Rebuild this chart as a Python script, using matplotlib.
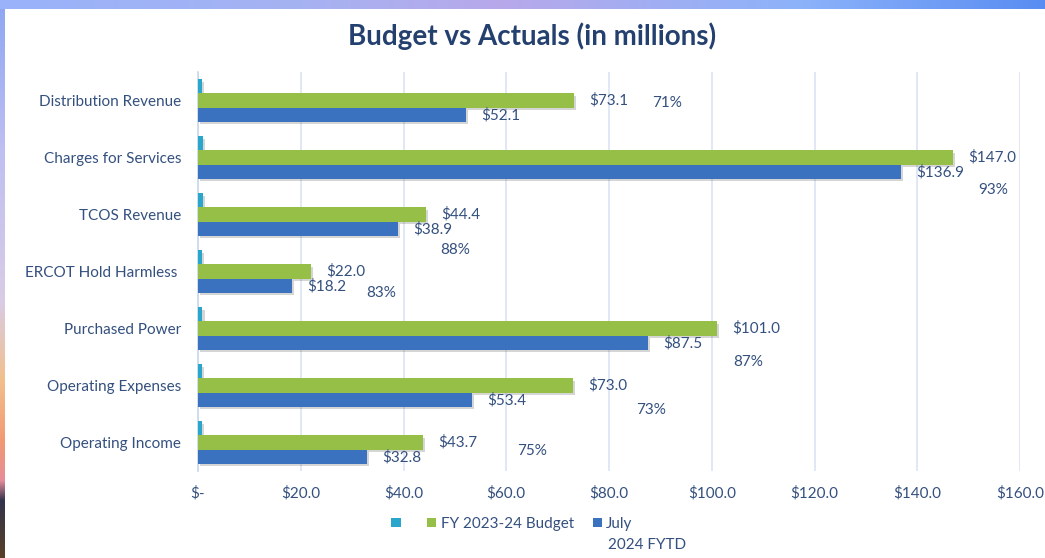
import numpy as np
import matplotlib
matplotlib.use("Agg")
import matplotlib.pyplot as plt
from matplotlib.ticker import FuncFormatter
import matplotlib.patheffects as pe

# ---------------- data ----------------
categories = ["Distribution Revenue", "Charges for Services", "TCOS Revenue",
              "ERCOT Hold Harmless ", "Purchased Power", "Operating Expenses",
              "Operating Income"]
budget = [73.1, 147.0, 44.4, 22.0, 101.0, 73.0, 43.7]
actual = [52.1, 136.9, 38.9, 18.2, 87.5, 53.4, 32.8]
pct = [0.71, 0.93, 0.88, 0.83, 0.87, 0.73, 0.75]
x_ticks = [0, 20, 40, 60, 80, 100, 120, 140, 160]
series_labels = [" ", "FY 2023-24 Budget", "July"]
series_label_cont = "2024 FYTD"   # second line of the "July 2024 FYTD" legend entry
title = "Budget vs Actuals (in millions)"

# layout of the free-floating % labels (data x, offset from category centre)
pct_label_x = [91.3, 154.7, 50.0, 35.6, 107.1, 88.2, 65.1]
pct_label_dy = [0.04, 0.57, 0.62, 0.38, 0.59, 0.43, 0.15]

# ---------------- style ----------------
FONT = "Lato"
TXT = "#34507f"
C_CYAN = "#2aa6cc"
C_GREEN = "#95bf47"
C_BLUE = "#3b72bf"
GRID = "#d9e4f2"

W, H = 1045, 558
fig = plt.figure(figsize=(W / 100, H / 100), dpi=100)

# decorative background strips (top and left edges)
img = np.ones((H, W, 3))
ys = np.arange(H)
left_stops_y = [0, 150, 300, 380, 440, 480, 500, 558]
left_cols = np.array([(0.55, 0.65, 0.95), (0.75, 0.75, 0.95), (0.85, 0.80, 0.90),
                      (0.95, 0.75, 0.55), (0.95, 0.60, 0.45), (0.90, 0.55, 0.60),
                      (0.20, 0.20, 0.30), (0.35, 0.25, 0.15)])
for c in range(3):
    img[:, :5, c] = np.interp(ys, left_stops_y, left_cols[:, c])[:, None]
xs = np.arange(W)
top_stops_x = [0, 300, 500, 800, 1045]
top_cols = np.array([(0.60, 0.70, 0.98), (0.65, 0.70, 0.95), (0.72, 0.66, 0.92),
                     (0.55, 0.70, 0.98), (0.35, 0.55, 0.95)])
for c in range(3):
    img[:9, :, c] = np.interp(xs, top_stops_x, top_cols[:, c])[None, :]
bg = fig.add_axes([0, 0, 1, 1], zorder=0)
bg.imshow(img, aspect="auto", extent=(0, 1, 0, 1))
bg.axis("off")

ax = fig.add_axes([198 / W, 1 - 471 / H, 822 / W, 399 / H], zorder=1)
ax.set_facecolor("none")

y = np.arange(len(categories))
h = 0.25
b0 = ax.barh(y - h, pct, height=h, color=C_CYAN, label=series_labels[0], zorder=3)
b1 = ax.barh(y, budget, height=h, color=C_GREEN, label=series_labels[1], zorder=3)
b2 = ax.barh(y + h, actual, height=h, color=C_BLUE, label=series_labels[2], zorder=3)

# legend first (so handles carry no shadow)
leg = fig.legend(handles=[b0, b1, b2], labels=series_labels, loc="center",
                 bbox_to_anchor=(512 / W, 1 - 524 / H), ncol=3, frameon=False,
                 handlelength=0.6, handleheight=0.6, handletextpad=0.3, columnspacing=1.2,
                 prop=dict(family=FONT, size=11), labelcolor=TXT)

shadow = [pe.SimplePatchShadow(offset=(1.5, -1.8), alpha=0.22, shadow_rgbFace="#444444"),
          pe.Normal()]
for cont in (b0, b1, b2):
    for p in cont:
        p.set_path_effects(shadow)

ax.bar_label(b1, labels=[f"${v:.1f}" for v in budget], padding=11,
             color=TXT, fontsize=11, family=FONT)
ax.bar_label(b2, labels=[f"${v:.1f}" for v in actual], padding=11,
             color=TXT, fontsize=11, family=FONT)

for i, p in enumerate(pct):
    ax.text(pct_label_x[i], y[i] + pct_label_dy[i], f"{p:.0%}", ha="center", va="center",
            color=TXT, fontsize=11, family=FONT, zorder=4,
            bbox=dict(facecolor="white", edgecolor="none", pad=1))

ax.set_xlim(0, 160)
ax.set_ylim(len(categories) - 0.5, -0.5)
ax.set_xticks(x_ticks)
ax.xaxis.set_major_formatter(FuncFormatter(lambda v, _: "$-" if v == 0 else f"${v:.1f}"))
ax.set_yticks(y)
ax.set_yticklabels(categories)
ax.tick_params(axis="both", length=0, labelcolor=TXT, labelsize=11)
ax.tick_params(axis="x", pad=11)
ax.tick_params(axis="y", pad=12)
for lab in ax.get_xticklabels() + ax.get_yticklabels():
    lab.set_family(FONT)
ax.grid(axis="x", color=GRID, linewidth=1.2, zorder=0)
for s in ("top", "right", "bottom"):
    ax.spines[s].set_visible(False)
ax.spines["left"].set_color("#c9d8ec")
ax.spines["left"].set_linewidth(1.2)

fig.text(532 / W, 1 - 36 / H, title, ha="center", va="center", fontsize=20,
         fontweight="bold", color="#24406f", family=FONT)

# wrapped second line of the last legend entry, placed under "July"
fig.canvas.draw()
jb = leg.get_texts()[2].get_window_extent()
fig.text(jb.x0 / W + 2 / W, (jb.y0 - 7) / H, series_label_cont, ha="left", va="top",
         color=TXT, fontsize=11, family=FONT)

fig.savefig("out.png", dpi=100)
